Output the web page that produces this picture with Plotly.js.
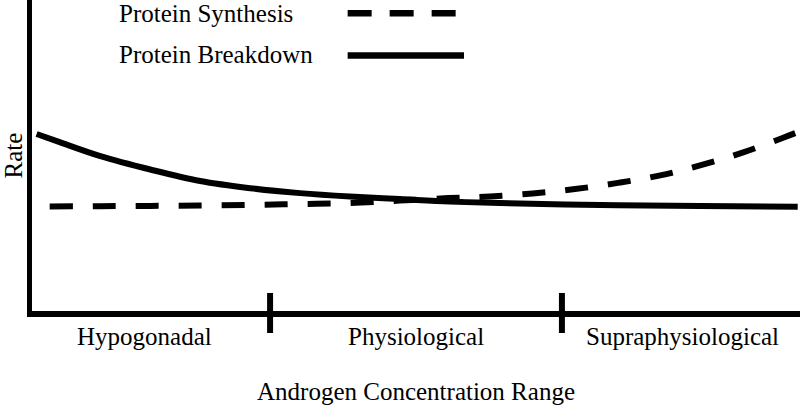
<!DOCTYPE html>
<html>
<head>
<meta charset="utf-8">
<script src="https://cdn.plot.ly/plotly-3.0.1.min.js"></script>
<style>html,body{margin:0;padding:0;background:#fff;}#chart{width:800px;height:409px;}</style>
</head>
<body>
<div id="chart"></div>
<script>
// Androgen concentration (arbitrary units, 0-100)
const breakdownX = [0.6, 3.6, 8.9, 15.4, 21.9, 28.4, 34.9, 41.4, 47.9, 54.4, 60.9, 74.0, 87.0, 99.7];
const breakdownY = [56.9, 54.3, 49.8, 45.5, 41.8, 39.5, 37.9, 36.8, 36.0, 35.2, 34.7, 34.1, 33.8, 33.5];
const synthesisX = [2.3, 8.9, 15.4, 21.9, 28.4, 34.9, 41.4, 47.9, 54.2, 59.6, 65.2, 70.7, 76.3, 81.8, 87.1, 92.6, 97.9, 99.6];
const synthesisY = [33.6, 33.7, 33.8, 33.9, 34.1, 34.4, 34.7, 35.5, 36.3, 36.8, 37.8, 39.2, 41.2, 43.6, 46.9, 51.0, 55.8, 57.4];
const rangeBoundaries = [31, 69];
const rangeLabels = ['Hypogonadal', 'Physiological', 'Supraphysiological'];
const rangeLabelX = [14.7, 50, 84.7];
const seriesNames = ['Protein Synthesis', 'Protein Breakdown'];

const FONT = 'Liberation Serif, Times New Roman, serif';

const traces = [
  {x: synthesisX, y: synthesisY, type: 'scatter', mode: 'lines', name: seriesNames[0],
   line: {color: '#000', width: 6, dash: '23px,20px', shape: 'spline', smoothing: 1}, showlegend: false},
  {x: breakdownX, y: breakdownY, type: 'scatter', mode: 'lines', name: seriesNames[1],
   line: {color: '#000', width: 6, shape: 'spline', smoothing: 1}, showlegend: false}
];

const shapes = rangeBoundaries.map(b => ({
  type: 'line', xref: 'x', yref: 'paper', x0: b, x1: b, y0: 0.058, y1: -0.0707,
  line: {color: '#000', width: 6}
}));
// legend samples
shapes.push({type: 'line', xref: 'paper', yref: 'paper', x0: 0.411, x1: 0.557, y0: 0.957, y1: 0.957,
  line: {color: '#000', width: 6.5, dash: '24px,18px'}});
shapes.push({type: 'line', xref: 'paper', yref: 'paper', x0: 0.411, x1: 0.5625, y0: 0.8215, y1: 0.8215,
  line: {color: '#000', width: 6.5}});

const annotations = rangeLabels.map((t, i) => ({
  text: t, xref: 'x', yref: 'paper', x: rangeLabelX[i], y: -0.0836, yanchor: 'middle', xanchor: 'center',
  showarrow: false, font: {family: FONT, size: 25, color: '#000'}
}));
annotations.push({text: seriesNames[0], xref: 'paper', yref: 'paper', x: 0.1107, y: 0.955,
  xanchor: 'left', yanchor: 'middle', showarrow: false, font: {family: FONT, size: 25, color: '#000'}});
annotations.push({text: seriesNames[1], xref: 'paper', yref: 'paper', x: 0.1107, y: 0.824,
  xanchor: 'left', yanchor: 'middle', showarrow: false, font: {family: FONT, size: 25, color: '#000'}});

const layout = {
  width: 800, height: 409,
  margin: {l: 32, r: 0, t: 0, b: 98},
  paper_bgcolor: '#fff', plot_bgcolor: '#fff',
  showlegend: false,
  xaxis: {range: [0, 100], showline: true, linecolor: '#000', linewidth: 5.5, showgrid: false, zeroline: false,
    showticklabels: false, ticks: '', fixedrange: true,
    title: {text: 'Androgen Concentration Range', font: {family: FONT, size: 25, color: '#000'}, standoff: 69}},
  yaxis: {range: [0, 100], showline: true, linecolor: '#000', linewidth: 5.5, showgrid: false, zeroline: false,
    showticklabels: false, ticks: '', fixedrange: true,
    title: {text: 'Rate', font: {family: FONT, size: 25, color: '#000'}, standoff: 8}},
  shapes: shapes,
  annotations: annotations
};

Plotly.newPlot('chart', traces, layout, {displayModeBar: false, staticPlot: true});
</script>
</body>
</html>
